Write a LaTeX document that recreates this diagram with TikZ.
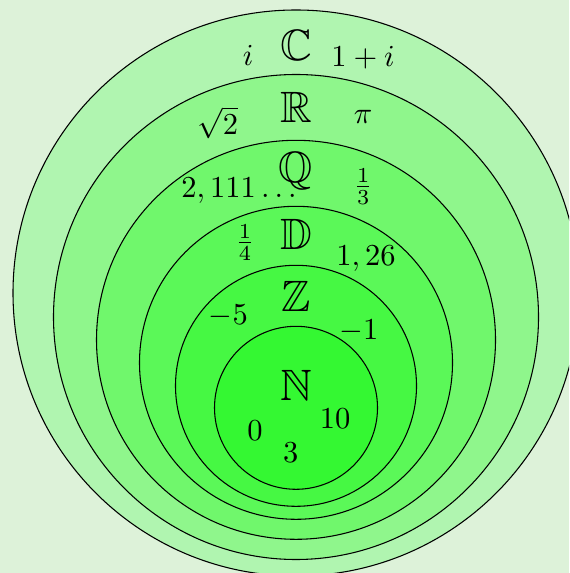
\documentclass[tikz,border=0pt]{standalone}
\usepackage{amssymb}
\definecolor{bg}{RGB}{221,242,217}
\definecolor{cC}{RGB}{176,245,176}
\definecolor{cR}{RGB}{143,246,140}
\definecolor{cQ}{RGB}{112,247,108}
\definecolor{cD}{RGB}{91,248,88}
\definecolor{cZ}{RGB}{70,248,67}
\definecolor{cN}{RGB}{52,248,50}
\begin{document}
\begin{tikzpicture}[x=0.3279pt,y=-0.3279pt,
  lab/.style={anchor=base, inner sep=0pt, font=\normalsize},
  setname/.style={anchor=base, inner sep=0pt, font=\Large},
  ring/.style={draw=black, line width=0.35pt}]
\useasboundingbox (0,0) rectangle (569,573);
\fill[bg] (0,0) rectangle (569,573);
\begin{scope}
\clip (0,0) rectangle (569,573);
\filldraw[ring, fill=cC] (296,293) circle[radius=283];
\filldraw[ring, fill=cR] (296,317) circle[radius=242.5];
\filldraw[ring, fill=cQ] (296,339.8) circle[radius=199.5];
\filldraw[ring, fill=cD] (296,362.8) circle[radius=156.5];
\filldraw[ring, fill=cZ] (296,385.8) circle[radius=120.5];
\filldraw[ring, fill=cN] (296,407.8) circle[radius=81.5];
\end{scope}
% set names
\node[setname] (C) at (296,60.3) {$\mathbb{C}$};
\node[setname] (R) at (296,122.4) {$\mathbb{R}$};
\node[setname] (Q) at (296,183) {$\mathbb{Q}$};
\node[setname] (D) at (296,249.3) {$\mathbb{D}$};
\node[setname] (Z) at (296,311.7) {$\mathbb{Z}$};
\node[setname] (N) at (296,400.7) {$\mathbb{N}$};
% elements
\node[lab] (i) at (248,65.5) {$i$};
\node[lab] (onei) at (363,66.9) {$1+i$};
\node[lab] (sqrt2) at (217.7,134.5) {$\sqrt{2}$};
\node[lab] (pi) at (363,124) {$\pi$};
\node[lab] (twoone) at (239,197.3) {$2,111\ldots$};
\node[lab] (third) at (363.3,194.2) {$\frac{1}{3}$};
\node[lab] (quarter) at (245,250.2) {$\frac{1}{4}$};
\node[lab] (onetwosix) at (366,266) {$1,26$};
\node[lab] (mfive) at (228.3,325) {$-5$};
\node[lab] (mone) at (358.8,339.3) {$-1$};
\node[lab] (zero) at (255,440) {$0$};
\node[lab] (ten) at (335,428.7) {$10$};
\node[lab] (three) at (290.7,462) {$3$};
\end{tikzpicture}
\end{document}
